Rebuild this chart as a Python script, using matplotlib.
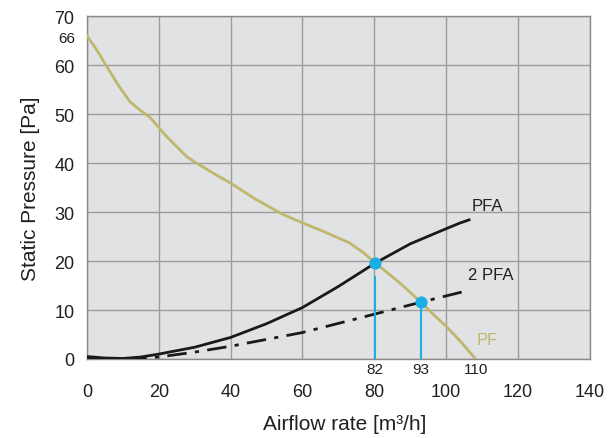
import matplotlib.pyplot as plt

plt.rcParams['font.family'] = ['Liberation Sans', 'DejaVu Sans']

# PF curve (fan pressure)
pf_x = [0, 3, 5.6, 9, 12, 14.8, 17.6, 22.2, 27.8, 30.5, 35, 40, 47, 54.6, 60, 66, 73.1, 77, 80.3, 84, 87, 93, 97, 100, 104, 108.2]
pf_y = [66, 62.8, 59.6, 55.6, 52.5, 50.8, 49.3, 45.4, 41.3, 40.0, 38.0, 35.9, 32.6, 29.5, 27.8, 26.0, 23.7, 21.7, 19.6, 17.4, 15.6, 11.6, 8.7, 6.7, 3.6, 0]

# PFA curve
pfa_x = [0, 5, 10, 15, 20, 30, 40, 50, 60, 70, 80.3, 90, 100, 104, 106.4]
pfa_y = [0.5, 0.2, 0.1, 0.4, 1.0, 2.4, 4.4, 7.2, 10.5, 14.8, 19.6, 23.5, 26.6, 27.8, 28.4]

# 2 PFA curve
pfa2_x = [0, 10, 20, 30, 40, 50, 60, 75, 93, 106.2]
pfa2_y = [0, 0, 0.4, 1.4, 2.6, 4.0, 5.4, 8.2, 11.6, 14.0]

# operating points
op_x = [80.3, 93.0]
op_y = [19.6, 11.6]
op_line_top = [16.7, 10.2]
op_labels = ["82", "93"]
end_label = "110"
end_x = 108.3

xticks = [0, 20, 40, 60, 80, 100, 120, 140]
yticks = [0, 10, 20, 30, 40, 50, 60, 70]

olive = "#bdb86c"
blue = "#1aaee6"
dark = "#1a1a1a"
txt = "#231f20"

fig = plt.figure(figsize=(6.08, 4.39), dpi=100)
ax = fig.add_axes([0.143, 0.18, 0.827, 0.781])
ax.set_facecolor("#e1e2e4")

ax.plot(pf_x, pf_y, color=olive, lw=2, zorder=3)
ax.plot(pfa_x, pfa_y, color=dark, lw=2, zorder=3)
ax.plot(pfa2_x, pfa2_y, color=dark, lw=2, linestyle=(0, (7, 3, 1.5, 3)), zorder=3)

for x, top in zip(op_x, op_line_top):
    ax.plot([x, x], [0, top], color=blue, lw=1.5, zorder=4)
ax.scatter(op_x, op_y, s=60, color=blue, zorder=5)

for x, lab in zip(op_x, op_labels):
    ax.text(x, -0.6, lab, ha="center", va="top", fontsize=11, color=txt)
ax.text(end_x, -0.6, end_label, ha="center", va="top", fontsize=11, color=txt)

ax.text(111.5, 31.4, "PFA", fontsize=12, color=txt, ha="center", va="center")
ax.text(112.5, 17.3, "2 PFA", fontsize=12, color=txt, ha="center", va="center")
ax.text(111.5, 4.0, "PF", fontsize=12, color=olive, ha="center", va="center")

ax.text(-3.2, 65.5, "66", fontsize=11, color=txt, ha="right", va="center")

ax.set_xlim(0, 140)
ax.set_ylim(0, 70)
ax.set_xticks(xticks)
ax.set_yticks(yticks)
ax.grid(True, color="#9c9c9c", lw=1)
ax.set_axisbelow(True)
ax.tick_params(length=0, labelsize=13, colors=txt)
ax.tick_params(axis="x", pad=17)
ax.tick_params(axis="y", pad=9)
for s in ax.spines.values():
    s.set_color("#8a8a8a")
    s.set_linewidth(1)

fig.text(0.567, 0.032, "Airflow rate [m³/h]", fontsize=15, color=txt, ha="center", va="center")
ax.set_ylabel("Static Pressure [Pa]", fontsize=15, color=txt, labelpad=10)

fig.savefig("out.png", dpi=100)
